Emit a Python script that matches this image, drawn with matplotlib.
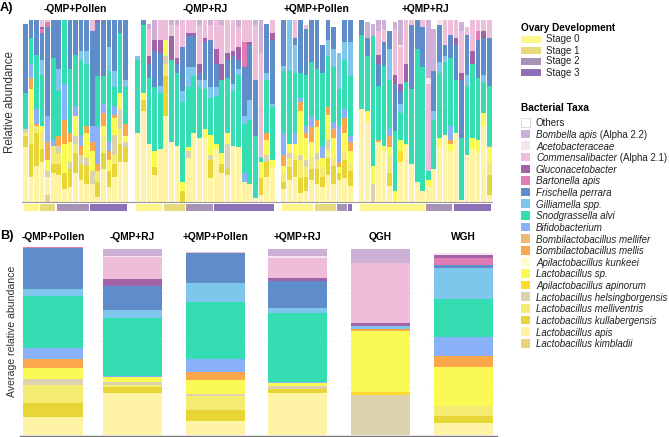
import matplotlib
matplotlib.use('Agg')
import matplotlib.pyplot as plt
from matplotlib.patches import Rectangle
import numpy as np

plt.rcParams['font.family'] = ['Liberation Sans', 'DejaVu Sans']

W, H = 669, 437

# ---------------- data ----------------
facet_names = ['-QMP+Pollen', '-QMP+RJ', '+QMP+Pollen', '+QMP+RJ']
facet_sizes = [19, 25, 13, 24]

stage_names = ['Stage 0', 'Stage 1', 'Stage 2', 'Stage 3']
stage_colors = ['#FFF68A', '#E6DA7C', '#A893B7', '#8D70B6']
stage_f1 = [0, 0, 0, 1, 1, 1, 2, 2, 2, 2, 2, 2, 3, 3, 3, 3, 3, 3, 3]
stage_f2 = [0, 0, 0, 0, 0, 1, 1, 1, 1, 2, 2, 2, 2, 2,
            3, 3, 3, 3, 3, 3, 3, 3, 3, 3, 3]
stage_f3 = [0, 0, 0, 0, 0, 0, 1, 1, 1, 1, 2, 2, 3]
stage_f4 = [0, 0, 0, 0, 0, 0, 0, 0, 0, 0, 0, 0, 2, 2, 2, 2, 2,
            3, 3, 3, 3, 3, 3, 3]

# relative abundance per sample (%), samples ordered facet by facet
others = ([2] + [0] * 18 +
          [20, 0, 2, 0, 0, 0, 0, 0, 0, 0, 0, 0, 0, 0, 0, 0, 0, 0, 0, 0, 0, 0, 0, 2, 0] +
          [0, 0, 0, 0, 3, 0, 0, 14, 0, 4, 18, 0, 0] +
          [0, 1, 2, 0, 0, 6, 1, 0, 0, 0, 0, 0, 0, 5, 0, 0, 0, 0, 1, 4, 0, 0, 0, 0])
bombella = ([0] * 19 +
            [0, 0, 3, 11, 0, 0, 3, 3, 0, 0, 0, 3, 0, 3, 0, 3, 0, 0, 4, 0, 0, 3, 18, 0, 0] +
            [0] * 13 +
            [0, 9, 7, 6, 5, 0, 4, 14, 0, 0, 0, 0, 32, 23, 0, 0, 0, 0, 5, 0, 0, 0, 0, 0])
acetobacteraceae = ([0] * 19 + [0] * 25 + [0] * 13 +
                    [0, 0, 0, 0, 0, 0, 0, 1, 0, 0, 0, 0, 3, 0, 3, 0, 0, 0, 0, 0, 0, 0, 0, 0])
commensalibacter = ([0, 0, 0, 4, 1, 0, 0, 0, 0, 0, 0, 0, 6, 0, 0, 0, 0, 0, 0] +
                    [0, 0, 15, 0, 11, 11, 6, 18, 15, 7, 7, 21, 10, 8, 16, 21, 18, 17, 11, 12, 12, 30, 57, 0, 7] +
                    [0, 0, 10, 0, 2, 0, 0, 0, 0, 0, 0, 0, 0] +
                    [0, 0, 0, 13, 7, 0, 25, 20, 24, 3, 0, 4, 48, 0, 0, 14, 8, 10, 23, 4, 17, 6, 6, 10])
gluconacetobacter = ([0, 0, 0, 1, 0, 0, 0, 0, 0, 0, 0, 0, 0, 1, 0, 0, 0, 0, 0] +
                     [0, 0, 4, 6, 7, 0, 13, 3, 0, 2, 2, 5, 2, 0, 8, 9, 4, 3, 7, 0, 2, 0, 0, 0, 4] +
                     [0] * 13 +
                     [0, 0, 0, 5, 0, 0, 5, 4, 10, 0, 0, 0, 0, 0, 0, 0, 0, 4, 4, 0, 7, 0, 4, 0])
bartonella = ([0, 0, 0, 2, 3, 0, 0, 0, 0, 0, 0, 0, 0, 0, 0, 0, 0, 0, 0] +
              [0] * 19 + [14] + [0] * 5 +
              [0] * 13 +
              [0] * 21 + [5, 0, 0])
frischella = ([38, 10, 19, 15, 49, 21, 27, 0, 27, 19, 17, 17, 52, 30, 31, 15, 28, 7, 33] +
              [0, 3, 8, 20, 18, 0, 0, 5, 24, 17, 17, 4, 21, 26, 13, 0, 10, 15, 5, 27, 30, 31, 0, 27, 35] +
              [25, 0, 4, 29, 25, 23, 27, 15, 11, 12, 0, 12, 12] +
              [8, 10, 0, 12, 13, 10, 26, 7, 0, 35, 16, 22, 0, 22, 20, 6, 13, 19, 32, 22, 0, 21, 20, 26])
gilliamella = ([0, 0, 0, 8, 0, 0, 12, 0, 0, 0, 5, 7, 0, 0, 0, 13, 9, 0, 4] +
               [2, 0, 0, 0, 4, 0, 0, 0, 6, 11, 5, 4, 5, 6, 5, 0, 0, 4, 3, 4, 11, 0, 1, 4, 2] +
               [3, 28, 15, 0, 0, 0, 0, 0, 9, 10, 20, 10, 19] +
               [0, 0, 0, 0, 0, 17, 0, 5, 0, 0, 0, 0, 0, 5, 6, 3, 0, 0, 0, 6, 0, 0, 4, 0])
snodgrassella = ([20, 14, 30, 28, 0, 45, 25, 35, 35, 29, 41, 34, 0, 28, 15, 39, 10, 33, 20] +
                 [40, 37, 36, 35, 31, 0, 45, 40, 44, 33, 31, 28, 22, 20, 26, 40, 30, 30, 40, 27, 35, 34, 2, 29, 29] +
                 [34, 40, 33, 14, 28, 30, 28, 40, 28, 30, 20, 27, 33] +
                 [41, 30, 71, 30, 44, 27, 33, 15, 34, 41, 73, 68, 5, 27, 36, 40, 37, 29, 34, 38, 41, 34, 17, 33])
bifidobacterium = ([0, 8, 8, 0, 14, 3, 0, 20, 0, 5, 6, 0, 9, 20, 5, 5, 5, 0, 0] +
                   [0] * 19 + [5] + [0] * 5 +
                   [12, 0, 6, 2, 4, 6, 0, 7, 0, 4, 20, 5, 3] +
                   [0, 0, 0, 0, 0, 4, 0, 0, 0, 0, 0, 0, 0, 0, 0, 0, 8, 0, 0, 0, 0, 0, 0, 1])
mellifer = [0] * 81
mellis = ([0, 6, 1, 0, 10, 0, 5, 13, 5, 0, 5, 4, 5, 4, 7, 5, 2, 0, 7] +
          [0] * 23 + [4, 0] +
          [6, 0, 0, 5, 3, 8, 4, 0, 4, 5, 3, 8, 5] +
          [0, 0, 0, 1, 0, 6, 0, 0, 0, 0, 0, 0, 0, 0, 0, 0, 2, 0, 0, 0, 0, 0, 0, 0])
kunkeei = [0] * 81
lacto_sp = ([0, 19, 0, 4, 6, 0, 0, 16, 11, 11, 0, 14, 11, 0, 6, 6, 9, 9, 3] +
            [0, 4, 0, 9, 0, 9, 0, 0, 5, 2, 0, 0, 5, 11, 3, 6, 6, 0, 0, 0, 0, 0, 9, 8, 4] +
            [4, 5, 6, 24, 12, 9, 14, 5, 14, 10, 3, 10, 6] +
            [0, 6, 10, 0, 3, 4, 6, 6, 1, 0, 0, 0, 3, 0, 5, 0, 4, 0, 0, 0, 6, 7, 7, 8])
apinorum = [0] * 19 + [0] * 25 + [0] * 13 + [0] * 7 + [6] + [0] * 16
helsingborgensis = ([2, 0, 0, 0, 3, 0, 4, 0, 4, 4, 5, 4, 7, 0, 0, 0, 11, 11, 3] +
                    [0, 0, 0, 0, 0, 4, 0, 0, 0, 4, 0, 0, 0, 3, 0, 0, 14, 0, 0, 0, 0, 0, 0, 4, 0] +
                    [0, 3, 0, 3, 4, 0, 4, 0, 5, 0, 0, 0, 0] +
                    [0, 0, 10] + [0] * 21)
melliventris = ([2, 11, 4, 9, 0, 10, 6, 0, 0, 5, 0, 0, 0, 6, 9, 0, 5, 8, 0] +
                [0] * 5 + [7] + [0] * 19 +
                [5, 5, 3, 10, 5, 6, 5, 5, 5, 5, 0, 5, 5] +
                [0, 0, 0, 0, 0, 10] + [0] * 17 + [7])
kullabergensis = ([6, 18, 18, 7, 0, 5, 6, 9, 10, 11, 9, 10, 0, 8, 9, 9, 7, 10, 8] +
                  [0, 6, 0, 4, 0, 22, 0, 0, 6, 0, 0, 0, 0, 10, 0, 5, 3, 0, 0, 0, 0, 0, 9, 8, 0] +
                  [4, 7, 9, 8, 8, 6, 8, 6, 9, 10, 4, 10, 8] +
                  [0, 0, 0, 0, 0, 7] + [0] * 17 + [11])
lacto_apis = ([30, 14, 20, 22, 10, 16, 15, 7, 8, 16, 12, 10, 10, 3, 18, 8, 14, 22, 22] +
              [38, 50, 32, 15, 29, 47, 33, 31, 0, 24, 38, 35, 35, 13, 29, 16, 15, 31, 30, 11, 10, 2, 4, 14, 19] +
              [7, 12, 14, 5, 6, 12, 10, 8, 15, 10, 12, 13, 9] +
              [51, 44, 0, 33, 28, 9, 0, 22, 31, 21, 11, 6, 9, 18, 30, 37, 28, 38, 1, 26, 29, 27, 42, 4])
kimbladii = [0, 0, 0, 0, 4] + [0] * 14 + [0] * 25 + [0] * 13 + [0] * 24

# panel B: average relative abundance (%) per group
groups = ['-QMP+Pollen', '-QMP+RJ', '+QMP+Pollen', '+QMP+RJ', 'QGH', 'WGH']
avg_others = [0.3, 1.2, 3.0, 1.2, 1.8, 3.5]
avg_bombella = [0, 3.7, 0, 3.7, 7.0, 0]
avg_acetobacteraceae = [0, 0.5, 0, 0.9, 0, 1.2]
avg_commensalibacter = [0, 11.8, 0.9, 10.6, 31.7, 0]
avg_gluconacetobacter = [0, 3.5, 0, 1.9, 1.6, 1.2]
avg_bartonella = [0.9, 0, 0, 0, 0, 4.1]
avg_frischella = [21.7, 12.7, 15.9, 14.3, 0, 1.4]
avg_gilliamella = [3.4, 4.0, 9.7, 2.3, 1.6, 16.2]
avg_snodgrassella = [27.5, 30.9, 30.3, 36.5, 0, 20.3]
avg_bifidobacterium = [6.2, 0.7, 6.7, 0.9, 0, 10.2]
avg_mellifer = [0, 0, 0, 0, 0, 0]
avg_mellis = [4.8, 0, 4.4, 0, 1.2, 5.6]
avg_kunkeei = [0, 0, 0, 0, 0, 0]
avg_lacto_sp = [5.8, 2.3, 7.4, 1.4, 32.1, 20.8]
avg_apinorum = [0, 0, 0, 0, 1.8, 0]
avg_helsingborgensis = [3.0, 1.8, 0.9, 1.8, 21.2, 0]
avg_melliventris = [9.3, 1.2, 7.6, 0, 0, 5.1]
avg_kullabergensis = [7.8, 3.2, 5.6, 2.1, 0, 3.7]
avg_lacto_apis = [9.3, 22.0, 7.6, 22.0, 0, 6.5]
avg_kimbladii = [0, 0, 0, 0, 0, 0]

# legend order (top of legend = top of stack)
taxa_labels = [('Others', False, ''),
               ('Bombella apis', True, ' (Alpha 2.2)'),
               ('Acetobacteraceae', True, ''),
               ('Commensalibacter', True, ' (Alpha 2.1)'),
               ('Gluconacetobacter', True, ''),
               ('Bartonella apis', True, ''),
               ('Frischella perrara', True, ''),
               ('Gilliamella spp.', True, ''),
               ('Snodgrassella alvi', True, ''),
               ('Bifidobacterium', True, ''),
               ('Bombilactobacillus mellifer', True, ''),
               ('Bombilactobacillus mellis', True, ''),
               ('Apilactobacillus kunkeei', True, ''),
               ('Lactobacillus sp.', True, ''),
               ('Apilactobacillus apinorum', True, ''),
               ('Lactobacillus helsingborgensis', True, ''),
               ('Lactobacillus melliventris', True, ''),
               ('Lactobacillus kullabergensis', True, ''),
               ('Lactobacillus apis', True, ''),
               ('Lactobacillus kimbladii', True, '')]
taxa_colors = ['#FFFFFF', '#CDB0D5', '#F8E4EF', '#EDBDD9', '#A262AA', '#E07BB4',
               '#5E8DC9', '#7EC6EC', '#34DEB2', '#8AB2FB', '#EDBA75', '#FBA84C',
               '#FFFDC6', '#FAFA55', '#FFDB30', '#DCD3AE', '#F3EB72', '#E8D636',
               '#FFF4A6', '#EBD27C']
sample_values = [others, bombella, acetobacteraceae, commensalibacter,
                 gluconacetobacter, bartonella, frischella, gilliamella,
                 snodgrassella, bifidobacterium, mellifer, mellis, kunkeei,
                 lacto_sp, apinorum, helsingborgensis, melliventris,
                 kullabergensis, lacto_apis, kimbladii]
group_values = [avg_others, avg_bombella, avg_acetobacteraceae,
                avg_commensalibacter, avg_gluconacetobacter, avg_bartonella,
                avg_frischella, avg_gilliamella, avg_snodgrassella,
                avg_bifidobacterium, avg_mellifer, avg_mellis, avg_kunkeei,
                avg_lacto_sp, avg_apinorum, avg_helsingborgensis,
                avg_melliventris, avg_kullabergensis, avg_lacto_apis,
                avg_kimbladii]
stage_lists = [stage_f1, stage_f2, stage_f3, stage_f4]

# ---------------- figure ----------------
fig = plt.figure(figsize=(W / 100, H / 100), dpi=100)


def px(x0, y0, x1, y1):
    return [x0 / W, 1 - y1 / H, (x1 - x0) / W, (y1 - y0) / H]


grid_color = '#E3E3E3'
facet_px = [(22.7, 128.3), (135, 275), (281, 353), (359, 492)]
start = 0
for fi, (x0, x1) in enumerate(facet_px):
    n = facet_sizes[fi]
    ax = fig.add_axes(px(x0, 20, x1, 202))
    for g in [25, 50, 75, 100]:
        ax.axhline(g, color=grid_color, lw=0.6, ls=(0, (1.5, 1.5)), zorder=0)
    xs = np.arange(n)
    bottom = np.zeros(n)
    for vals, col in zip(reversed(sample_values), reversed(taxa_colors)):
        v = np.array(vals[start:start + n], dtype=float)
        ax.bar(xs, v, bottom=bottom, width=0.84, color=col, linewidth=0, zorder=2)
        bottom += v
    ax.set_xlim(-0.5, n - 0.5)
    ax.set_ylim(0, 100)
    ax.axis('off')

    # ovary stage strip
    sax = fig.add_axes(px(x0, 203.5, x1, 211))
    st = stage_lists[fi]
    i = 0
    while i < n:
        j = i
        while j < n and st[j] == st[i]:
            j += 1
        sax.bar((i + j - 1) / 2, 1, width=(j - i) - 0.3, color=stage_colors[st[i]],
                linewidth=0)
        i = j
    sax.set_xlim(-0.5, n - 0.5)
    sax.set_ylim(0, 1)
    sax.axis('off')
    start += n

# panel B
b_centers = [53, 132.5, 215.5, 297.5, 380.5, 463.5]
for gi, c in enumerate(b_centers):
    ax = fig.add_axes(px(c - 35, 246, c + 35, 435))
    for g in [25, 50, 75]:
        ax.axhline(g, color=grid_color, lw=0.6, ls=(0, (1.5, 1.5)), zorder=0)
    bottom = 0.0
    for vals, col in zip(reversed(group_values), reversed(taxa_colors)):
        ax.bar([0], [vals[gi]], bottom=bottom, width=1.0, color=col, linewidth=0, zorder=2)
        bottom += vals[gi]
    ax.set_xlim(-0.59, 0.59)
    ax.set_ylim(0, 100)
    ax.axis('off')

# overlay for texts / legend
ov = fig.add_axes([0, 0, 1, 1])
ov.set_xlim(0, W)
ov.set_ylim(H, 0)
ov.axis('off')
ov.patch.set_alpha(0)

ov.plot([22, 492], [202.4, 202.4], color='#9A9A9A', lw=0.8)
ov.plot([20, 497], [435.6, 435.6], color='#777777', lw=1.0)

ov.text(0, 8.5, 'A)', fontsize=9.2, fontweight='bold', ha='left', va='center')
ov.text(0, 236.5, 'B)', fontsize=9.2, fontweight='bold', ha='left', va='center')
for name, (x0, x1) in zip(facet_names, facet_px):
    ov.text((x0 + x1) / 2, 8.5, name, fontsize=7.4, fontweight='bold',
            ha='center', va='center')
for name, c in zip(groups, b_centers):
    ov.text(c, 237, name, fontsize=7.4, fontweight='bold', ha='center', va='center')

ov.text(10, 102.5, 'Relative abundance', rotation=90, fontsize=8.3,
        ha='center', va='center', color='#333333')
ov.text(12.5, 331, 'Average relative abundance', rotation=90, fontsize=7.6,
        ha='center', va='center', color='#333333')

# legend: ovary development
ov.text(521, 28, 'Ovary Development', fontsize=7.2, fontweight='bold',
        ha='left', va='center')
for i, (s, col) in enumerate(zip(stage_names, stage_colors)):
    y = 39.5 + 11 * i
    ov.add_patch(Rectangle((521, y - 3.6), 20, 7.2, facecolor=col, edgecolor='none'))
    ov.text(546, y, s, fontsize=7, ha='left', va='center', color='#222222')

# legend: taxa
ov.text(521, 108, 'Bacterial Taxa', fontsize=7.3, fontweight='bold',
        ha='left', va='center')
for i, ((main, ital, suffix), col) in enumerate(zip(taxa_labels, taxa_colors)):
    y = 122.3 + 11.63 * i
    ec = '#C8C8C8' if col == '#FFFFFF' else 'none'
    ov.add_patch(Rectangle((521, y - 4.3), 9, 8.6, facecolor=col, edgecolor=ec, lw=0.5))
    t = ov.text(536, y, main, fontsize=7, ha='left', va='center_baseline',
                style='italic' if ital else 'normal', color='#222222')
    if suffix:
        ov.annotate(suffix, xy=(1.0, y), xycoords=(t, 'data'), fontsize=7,
                    ha='left', va='center_baseline', color='#222222')

fig.savefig('out.png', dpi=100)
